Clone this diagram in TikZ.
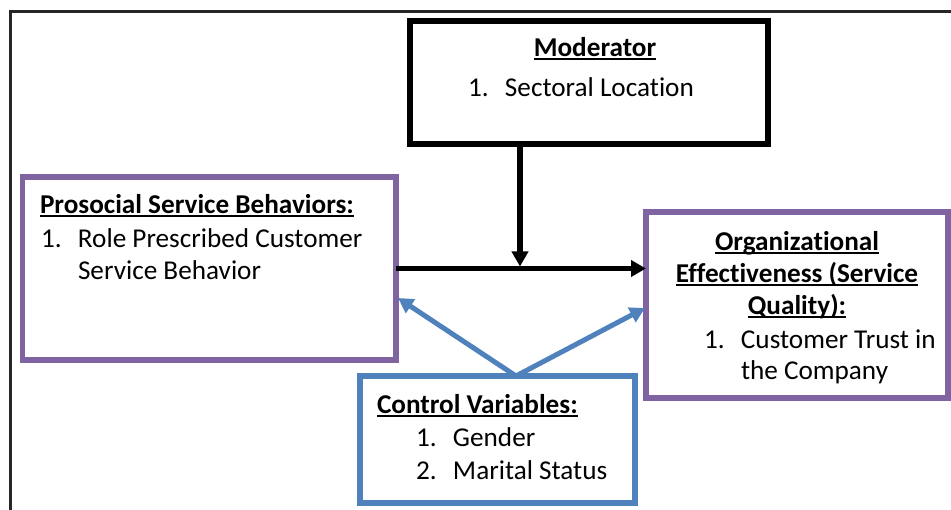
\documentclass[tikz,border=0pt]{standalone}
\usepackage{fontspec}
\setmainfont{Carlito}[Ligatures={NoCommon}]
\usetikzlibrary{arrows.meta,calc}
\definecolor{purp}{HTML}{8064A2}
\definecolor{blu}{HTML}{4F81BD}
\newcommand\myul[1]{\setbox0\hbox{#1}\rlap{\rule[-3.5pt]{\wd0}{2.4pt}}\box0}
\newcommand\itm[1]{\makebox[37pt][l]{#1}}
\begin{document}
\begin{tikzpicture}[x=1pt,y=-1pt,
  box/.style={draw, rectangle, inner sep=0pt, outer sep=0pt},
  txt/.style={inner sep=0pt, outer sep=0pt, font=\fontsize{27.2}{32}\selectfont},
  lline/.style={txt, anchor=base west},
  cline/.style={txt, anchor=base},
  blk/.style={line width=5.5pt, -{Triangle[length=15pt,width=16pt]}},
  bluarr/.style={blu, line width=5pt, -{Triangle[length=15pt,width=16pt]}}]
\useasboundingbox (0,0) rectangle (951,510);
% frame
\draw[line width=3pt, black!85] (951,11.5) -- (10.5,11.5) -- (10.5,510);
% boxes
\node[box, line width=6.5pt, minimum width=358pt, minimum height=123pt] (mod) at (589,82.5) {};
\node[box, purp, line width=5.5pt, minimum width=373.5pt, minimum height=183pt] (pro) at (209.25,268.5) {};
\node[box, purp, line width=5.5pt, minimum width=302pt, minimum height=186pt] (org) at (797,305) {};
\node[box, blu, line width=6pt, minimum width=275.5pt, minimum height=127pt] (ctl) at (497.25,439.5) {};
% moderator text
\node[cline] (modt) at (595,57) {\myul{\bfseries Moderator}};
\node[lline] (mod1) at (468,97) {\itm{1.}Sectoral Location};
% prosocial text
\node[lline] (prot) at (40,214) {\myul{\bfseries Prosocial Service Behaviors:}};
\node[lline] (pro1) at (41,248) {\itm{1.}Role Prescribed Customer};
\node[lline] (pro2) at (78,280) {Service Behavior};
% org text
\node[cline] (orgt1) at (797,251) {\myul{\bfseries Organizational}};
\node[cline] (orgt2) at (797,283) {\myul{\bfseries Effectiveness (Service}};
\node[cline] (orgt3) at (797,315) {\myul{\bfseries Quality):}};
\node[lline] (org1) at (704,349) {\itm{1.}Customer Trust in};
\node[lline] (org2) at (741,380) {the Company};
% control text
\node[lline] (ctlt) at (377,414) {\myul{\bfseries Control Variables:}};
\node[lline] (ctl1) at (416,447) {\itm{1.}Gender};
\node[lline] (ctl2) at (416,479) {\itm{2.}Marital Status};
% connectors
\coordinate (jn) at (520,266.5);
\draw[blk] (mod.south -| jn) -- (jn);
\draw[blk] (pro.east) -- (pro.east -| org.west);
\coordinate (cs) at (516,376);
\coordinate (lt) at (398,298);
\coordinate (rt) at (645,308);
\draw[bluarr] (cs) -- (lt);
\draw[bluarr] (cs) -- (rt);
\end{tikzpicture}
\end{document}
